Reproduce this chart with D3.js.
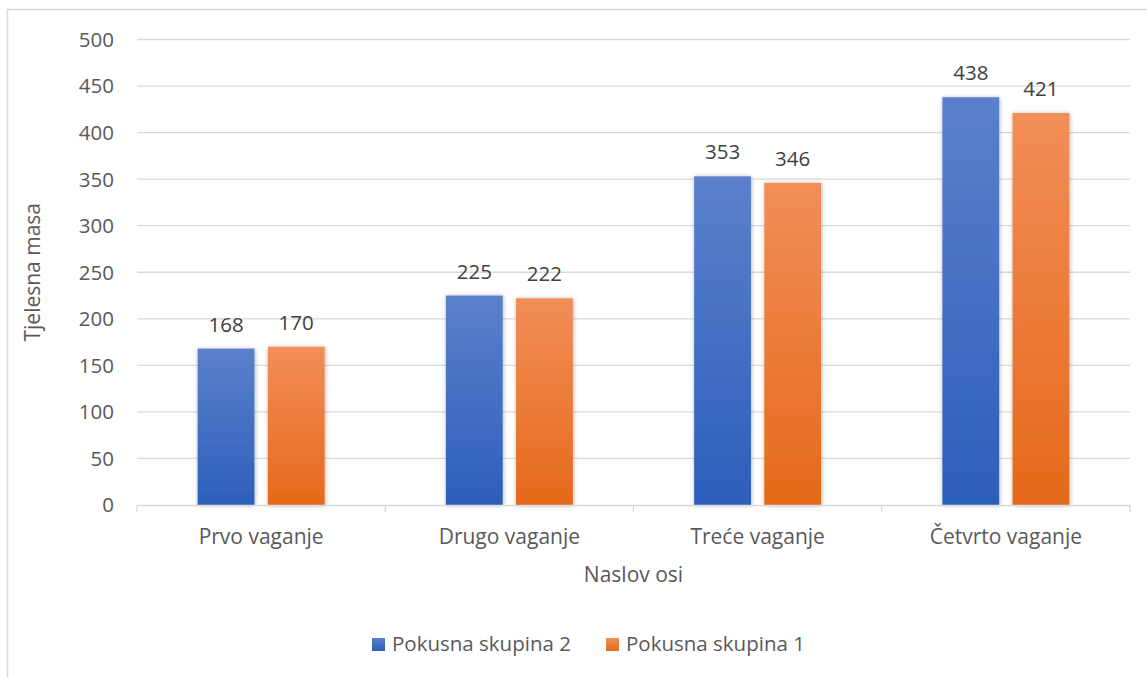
<!DOCTYPE html>
<html>
<head>
<meta charset="utf-8">
<script src="https://cdn.jsdelivr.net/npm/d3@7"></script>
<style>
  body { margin: 0; background: #fff; }
  text { font-family: "Open Sans", "Noto Sans", sans-serif; fill: #595959; }
</style>
</head>
<body>
<div id="chart"></div>
<script>
// podaci
var categories = ["Prvo vaganje", "Drugo vaganje", "Treće vaganje", "Četvrto vaganje"];
var seriesNames = ["Pokusna skupina 2", "Pokusna skupina 1"];
var skupina2 = [168, 225, 353, 438];
var skupina1 = [170, 222, 346, 421];
var yTicks = [0, 50, 100, 150, 200, 250, 300, 350, 400, 450, 500];

var W = 1147, H = 677;
var plotLeft = 137, plotRight = 1130, plotTop = 39.5, plotBottom = 505;

var svg = d3.select("#chart").append("svg")
    .attr("width", W)
    .attr("height", H);

var defs = svg.append("defs");

// gradijenti za stupce
function gradient(id, c1, c2) {
    var g = defs.append("linearGradient")
        .attr("id", id)
        .attr("x1", 0).attr("y1", 0)
        .attr("x2", 0).attr("y2", 1);
    g.append("stop").attr("offset", "0%").attr("stop-color", c1);
    g.append("stop").attr("offset", "100%").attr("stop-color", c2);
}
gradient("gBlue", "#5b80cb", "#2c5fba");
gradient("gOrange", "#f28e58", "#e5691a");

// sjena oko stupaca
var f = defs.append("filter").attr("id", "shadow")
    .attr("x", "-20%").attr("y", "-20%").attr("width", "140%").attr("height", "140%");
f.append("feDropShadow")
    .attr("dx", 0.5).attr("dy", 0.5)
    .attr("stdDeviation", 2.2)
    .attr("flood-color", "#000")
    .attr("flood-opacity", 0.3);

// okvir
svg.append("rect")
    .attr("x", 7.5).attr("y", 9.5)
    .attr("width", W + 10).attr("height", H + 10)
    .attr("fill", "none")
    .attr("stroke", "#d9d9d9")
    .attr("stroke-width", 1.5);

var y = d3.scaleLinear().domain([0, 500]).range([plotBottom, plotTop]);
var x = d3.scaleBand().domain(categories).range([plotLeft, plotRight]);
var groupW = 127;
var x1 = d3.scaleBand().domain(seriesNames)
    .range([(x.bandwidth() - groupW) / 2, (x.bandwidth() + groupW) / 2])
    .paddingInner(0.19);

// mreža
svg.append("g").selectAll("line")
    .data(yTicks.filter(function (d) { return d > 0; }))
    .enter().append("line")
    .attr("x1", plotLeft).attr("x2", plotRight)
    .attr("y1", function (d) { return y(d); })
    .attr("y2", function (d) { return y(d); })
    .attr("stroke", "#d9d9d9")
    .attr("stroke-width", 1.3);

// Y os oznake
svg.append("g").selectAll("text")
    .data(yTicks)
    .enter().append("text")
    .attr("x", 114)
    .attr("y", function (d) { return y(d); })
    .attr("dy", "0.36em")
    .attr("text-anchor", "end")
    .style("font-size", "20.5px")
    .text(function (d) { return d; });

// stupci
var colors = { "Pokusna skupina 2": "url(#gBlue)", "Pokusna skupina 1": "url(#gOrange)" };
var rows = categories.map(function (c, i) {
    return { cat: c, vals: [
        { s: seriesNames[0], v: skupina2[i] },
        { s: seriesNames[1], v: skupina1[i] }
    ] };
});

var groups = svg.append("g").selectAll("g")
    .data(rows)
    .enter().append("g")
    .attr("transform", function (d) { return "translate(" + x(d.cat) + ",0)"; });

groups.selectAll("rect")
    .data(function (d) { return d.vals; })
    .enter().append("rect")
    .attr("x", function (d) { return x1(d.s); })
    .attr("y", function (d) { return y(d.v); })
    .attr("width", x1.bandwidth())
    .attr("height", function (d) { return y(0) - y(d.v); })
    .attr("fill", function (d) { return colors[d.s]; })
    .attr("filter", "url(#shadow)");

groups.selectAll("text")
    .data(function (d) { return d.vals; })
    .enter().append("text")
    .attr("x", function (d) { return x1(d.s) + x1.bandwidth() / 2; })
    .attr("y", function (d) { return y(d.v) - 17; })
    .attr("text-anchor", "middle")
    .style("font-size", "20.5px")
    .style("fill", "#404040")
    .text(function (d) { return d.v; });

// X os
svg.append("line")
    .attr("x1", plotLeft).attr("x2", plotRight)
    .attr("y1", plotBottom + 0.5).attr("y2", plotBottom + 0.5)
    .attr("stroke", "#d9d9d9")
    .attr("stroke-width", 1.3);

var xAxis = svg.append("g")
    .attr("transform", "translate(0," + (plotBottom + 0.5) + ")")
    .call(d3.axisBottom(x).tickSize(0).tickPadding(0));
xAxis.select(".domain").remove();
xAxis.selectAll("text")
    .attr("y", 38)
    .attr("dy", 0)
    .style("font-size", "21px")
    .attr("fill", null);
xAxis.attr("font-family", null);

// crtice na granicama kategorija
svg.append("g").selectAll("line")
    .data(d3.range(categories.length + 1))
    .enter().append("line")
    .attr("x1", function (i) { return plotLeft + i * x.step(); })
    .attr("x2", function (i) { return plotLeft + i * x.step(); })
    .attr("y1", plotBottom).attr("y2", plotBottom + 7)
    .attr("stroke", "#d9d9d9")
    .attr("stroke-width", 1.3);

// naslovi osi
svg.append("text")
    .attr("x", (plotLeft + plotRight) / 2)
    .attr("y", 582)
    .attr("text-anchor", "middle")
    .style("font-size", "21px")
    .text("Naslov osi");

svg.append("text")
    .attr("transform", "translate(40," + ((plotTop + plotBottom) / 2) + ") rotate(-90)")
    .attr("text-anchor", "middle")
    .style("font-size", "21px")
    .text("Tjelesna masa");

// legenda
var legend = svg.append("g");
var legendX = [372, 606];
seriesNames.forEach(function (s, i) {
    legend.append("rect")
        .attr("x", legendX[i]).attr("y", 638)
        .attr("width", 13).attr("height", 13)
        .attr("fill", colors[s]);
    legend.append("text")
        .attr("x", legendX[i] + 20).attr("y", 651)
        .style("font-size", "20.5px")
        .text(s);
});
</script>
</body>
</html>
